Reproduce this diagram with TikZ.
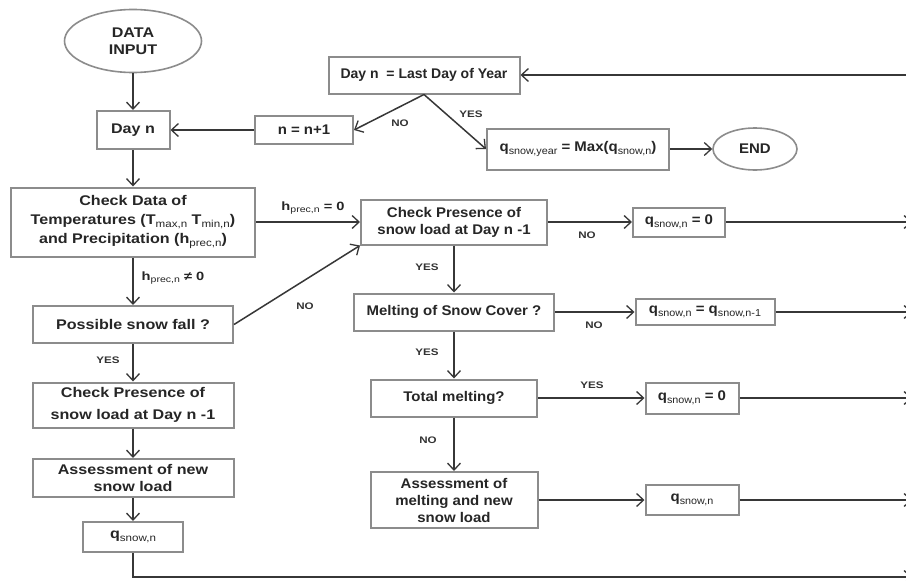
\documentclass[tikz,border=0pt]{standalone}
\usepackage{fontspec}
\usepackage{graphicx}
\setmainfont{Liberation Sans}
\newfontfamily\fL[FakeStretch=1.15]{Liberation Sans}
\newfontfamily\fR[FakeStretch=1.07]{Liberation Sans}
\newfontfamily\fS[FakeStretch=1.22]{Liberation Sans}
\usetikzlibrary{arrows.meta,shapes.geometric}
\newcommand\ssub[1]{\raisebox{-0.45ex}{\scalebox{0.72}{\mdseries #1}}}
\definecolor{boxgray}{RGB}{140,140,140}
\definecolor{linegray}{RGB}{55,55,55}
\tikzset{
  box/.style={draw=boxgray, line width=2pt, fill=white, inner sep=0pt, align=center, text=black!85},
  lbox/.style={box, font=\fL\fontsize{14}{17}\selectfont\bfseries},
  rbox/.style={box, font=\fR\fontsize{14}{17}\selectfont\bfseries},
  oval/.style={ellipse, draw=boxgray, line width=1.6pt, fill=white, inner sep=0pt, align=center, text=black!85},
  conn/.style={draw=linegray, line width=1.5pt, -{Straight Barb[length=7pt,width=13pt,line width=1.3pt]}},
  lbl/.style={font=\fS\fontsize{9.5}{11}\selectfont\bfseries, text=black!80, inner sep=0pt},
  hlbl/.style={font=\fS\fontsize{12}{14}\selectfont\bfseries, text=black!85, inner sep=0pt}
}
\begin{document}
\begin{tikzpicture}[x=1pt,y=-1pt]
\clip (0,0) rectangle (906,581);
\fill[white] (0,0) rectangle (906,581);
% left column
\node[oval, font=\fL\fontsize{14}{17}\selectfont\bfseries, minimum width=137pt, minimum height=63pt] (din) at (133,41) {DATA\\INPUT};
\node[lbox, minimum width=73pt, minimum height=38pt] (dayn) at (133,130) {Day n};
\node[rbox, minimum width=98pt, minimum height=28pt] (nn1) at (304,130) {n = n+1};
\node[box, font=\fontsize{14}{17}\selectfont\bfseries, minimum width=191pt, minimum height=37pt] (last) at (424,75) {Day n \ = Last Day of Year};
\node[rbox, minimum width=182pt, minimum height=41pt] (qyear) at (578,149) {q\ssub{snow,year} = Max(q\ssub{snow,n})};
\node[oval, font=\fR\fontsize{14}{17}\selectfont\bfseries, minimum width=84pt, minimum height=42pt] (end) at (755,149) {END};
\node[lbox, font=\fL\fontsize{14}{19}\selectfont\bfseries, minimum width=244pt, minimum height=69pt] (chk) at (133,222) {Check Data of\\Temperatures (T\ssub{max,n} T\ssub{min,n})\\and Precipitation (h\ssub{prec,n})};
\node[lbox, minimum width=200pt, minimum height=37pt] (psf) at (133,324.5) {Possible snow fall ?};
\node[lbox, font=\fL\fontsize{14}{22}\selectfont\bfseries, minimum width=201pt, minimum height=45pt] (cpl) at (133,405) {Check Presence of\\snow load at Day n -1};
\node[lbox, minimum width=201pt, minimum height=38pt] (asl) at (133,478) {Assessment of new\\snow load};
\node[lbox, minimum width=100pt, minimum height=30pt] (ql) at (133,537) {q\ssub{snow,n}};
% right column
\node[rbox, minimum width=186pt, minimum height=45pt] (cpr) at (454,222) {Check Presence of\\snow load at Day n -1};
\node[rbox, minimum width=92pt, minimum height=29pt] (q0a) at (679,222) {q\ssub{snow,n} = 0};
\node[rbox, minimum width=200pt, minimum height=37pt] (melt) at (454,312) {Melting of Snow Cover ?};
\node[rbox, minimum width=139pt, minimum height=26pt] (qprev) at (705,312) {q\ssub{snow,n} = q\ssub{snow,n-1}};
\node[rbox, minimum width=166pt, minimum height=37pt] (tot) at (454,398) {Total melting?};
\node[rbox, minimum width=93pt, minimum height=31pt] (q0b) at (692,398) {q\ssub{snow,n} = 0};
\node[rbox, minimum width=167pt, minimum height=56pt] (asm) at (454,500) {Assessment of\\melting and new\\snow load};
\node[rbox, minimum width=93pt, minimum height=30pt] (qn) at (692,500) {q\ssub{snow,n}};
% edge coordinates
\coordinate (e0) at (912,75);
\coordinate (e1) at (912,222);
\coordinate (e2) at (912,312);
\coordinate (e3) at (912,398);
\coordinate (e4) at (912,500);
\coordinate (e5) at (912,577);
% connectors
\draw[conn] (din) -- (dayn);
\draw[conn] (nn1) -- (dayn);
\draw[conn] (e0) -- (last);
\draw[conn] (last.south) -- (nn1.east);
\draw[conn] (last.south) -- (qyear.west);
\draw[conn] (qyear) -- (end);
\draw[conn] (dayn) -- (chk);
\draw[conn] (chk.east |- cpr.west) -- (cpr.west);
\draw[conn] (chk) -- (psf);
\draw[conn] (psf.east) -- (cpr.south west);
\draw[conn] (psf) -- (cpl);
\draw[conn] (cpl) -- (asl);
\draw[conn] (asl) -- (ql);
\draw[conn] (ql.south) |- (e5);
\draw[conn] (cpr.east |- q0a.west) -- (q0a.west);
\draw[conn] (q0a) -- (e1);
\draw[conn] (cpr) -- (melt);
\draw[conn] (melt.east |- qprev.west) -- (qprev.west);
\draw[conn] (qprev) -- (e2);
\draw[conn] (melt) -- (tot);
\draw[conn] (tot) -- (q0b);
\draw[conn] (q0b) -- (e3);
\draw[conn] (tot) -- (asm);
\draw[conn] (asm) -- (qn);
\draw[conn] (qn) -- (e4);
% labels
\node[lbl] (lno1) at (400,123) {NO};
\node[lbl] (lyes1) at (471,114) {YES};
\node[hlbl] (lh0) at (313,208) {h\ssub{prec,n} = 0};
\node[hlbl] (lhn0) at (173,278) {h\ssub{prec,n} ≠ 0};
\node[lbl] (lno2) at (305,306) {NO};
\node[lbl] (lyes2) at (108,360) {YES};
\node[lbl] (lno3) at (587,235) {NO};
\node[lbl] (lyes3) at (427,267) {YES};
\node[lbl] (lno4) at (594,325) {NO};
\node[lbl] (lyes4) at (427,352) {YES};
\node[lbl] (lyes5) at (592,385) {YES};
\node[lbl] (lno5) at (428,440) {NO};
\end{tikzpicture}
\end{document}
